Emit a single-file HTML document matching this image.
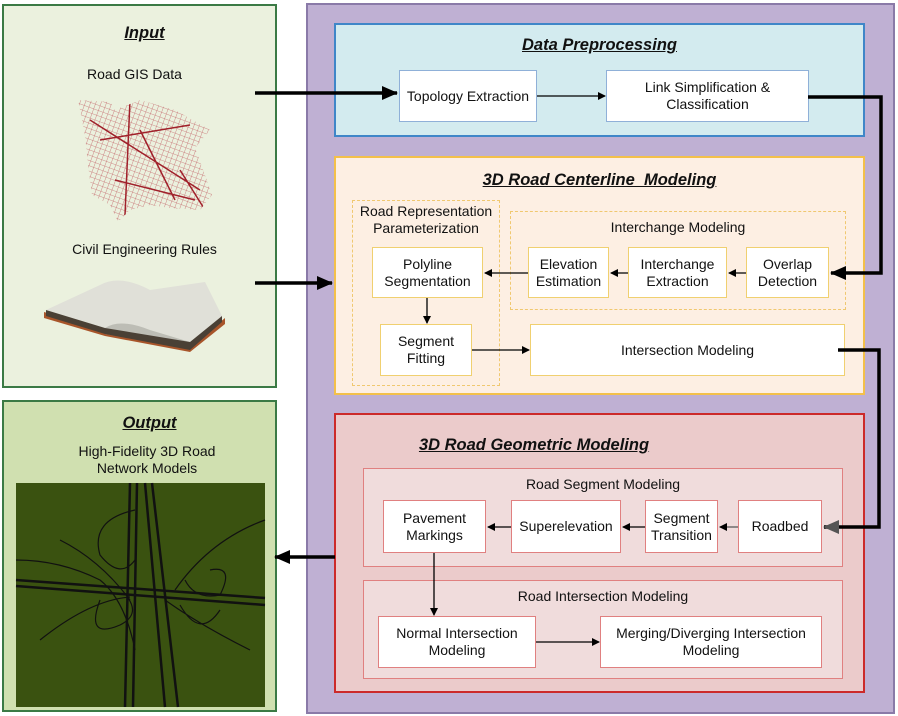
<!DOCTYPE html>
<html><head><style>
body{margin:0;width:898px;height:716px;position:relative;background:#fff;font-family:"Liberation Sans",sans-serif;overflow:hidden}
.a{position:absolute;box-sizing:border-box}
.b{position:absolute;box-sizing:border-box;background:#fff;display:flex;align-items:center;justify-content:center;text-align:center;font-size:14px;line-height:17px;color:#111}
.t{position:absolute;text-align:center;font-weight:bold;font-style:italic;text-decoration:underline;font-size:16.5px;color:#111}
.l{position:absolute;text-align:center;font-size:14px;color:#111;line-height:17px}
</style></head><body>
<div class="a" style="left:2px;top:4px;width:275px;height:384px;background:#ebf1de;border:2px solid #3b7a45"></div>
<div class="a" style="left:2px;top:400px;width:275px;height:312px;background:#d0e0b0;border:2px solid #3b7a45"></div>
<div class="t" style="left:2px;top:24px;width:285px">Input</div>
<div class="l" style="left:2px;top:66px;width:265px">Road GIS Data</div>
<div class="l" style="left:2px;top:241px;width:285px">Civil Engineering Rules</div>
<div class="t" style="left:2px;top:414px;width:295px">Output</div>
<div class="l" style="left:2px;top:443px;width:290px">High-Fidelity 3D Road<br>Network Models</div>
<svg class="a" style="left:0;top:0" width="898" height="716">
<defs>
<pattern id="grid" width="5" height="5" patternUnits="userSpaceOnUse" patternTransform="rotate(20)">
<path d="M0 0 L5 0 M0 0 L0 5" stroke="#b8404a" stroke-width="0.8"/>
</pattern>
<clipPath id="mc"><path d="M78 100 L110 102 L115 110 L140 100 L175 110 L210 130 L195 148 L205 175 L212 195 L200 210 L170 208 L150 205 L130 210 L118 222 L110 205 L92 195 L88 165 L85 135 Z"/></clipPath>
</defs>
<rect x="70" y="95" width="150" height="130" fill="url(#grid)" clip-path="url(#mc)" opacity="0.75"/>
<g stroke="#a0202a" stroke-width="1.5" fill="none" clip-path="url(#mc)">
<path d="M90 120 L200 190 M130 100 L125 215 M140 130 L175 200 M100 140 L190 125 M115 180 L195 200 M180 170 L205 210"/>
</g>
<!-- book -->
<path d="M44 312 L105 330 L190 347 L225 318 L225 324 L190 352 L105 336 L44 318Z" fill="#a8552a"/>
<path d="M46 310 L100 285 Q120 274 150 290 L205 282 L222 316 L190 342 L150 330 Q120 320 105 328 Z" fill="#e0e0d8"/>
<path d="M105 328 Q120 318 150 330 L190 342 L190 348 L105 334Z" fill="#bdbdb5"/>
<path d="M46 310 L105 328 L190 342 L222 316 L222 322 L190 350 L105 334 L46 316Z" fill="#4a4035"/>
<!-- output image -->
<rect x="16" y="483" width="249" height="224" fill="#3a5210"/>
<g stroke="#111" fill="none" stroke-width="2.5">
<path d="M130 483 L125 707 M137 483 L133 707 M145 483 L165 707 M152 483 L178 707"/>
<path d="M16 580 L265 598 M16 586 L265 605"/>
<path stroke-width="1.2" d="M135 510 Q90 520 100 555 Q120 580 135 560 M210 570 Q235 565 220 595 Q195 600 185 580 M100 600 Q85 640 120 625 Q140 615 128 598 M180 605 Q200 640 220 610 M16 560 Q60 560 100 580 Q125 600 135 650 M265 520 Q210 540 175 590 M40 640 Q90 600 130 597 M250 650 Q200 625 165 600 M60 540 Q100 560 130 600"/>
</g>
</svg>
<div class="a" style="left:306px;top:3px;width:589px;height:711px;background:#bfb0d3;border:2px solid #8a7aa8"></div>
<div class="a" style="left:334px;top:23px;width:531px;height:114px;background:#d3ebef;border:2px solid #3f86c8"></div>
<div class="t" style="left:334px;top:36px;width:531px">Data Preprocessing</div>
<div class="b" style="left:399px;top:70px;width:138px;height:52px;border:1px solid #8fb0d8">Topology Extraction</div>
<div class="b" style="left:606px;top:70px;width:203px;height:52px;border:1px solid #8fb0d8">Link Simplification &amp;<br>Classification</div>
<div class="a" style="left:334px;top:156px;width:531px;height:239px;background:#fdefe3;border:2px solid #f3c04a"></div>
<div class="t" style="left:334px;top:171px;width:531px">3D Road Centerline&nbsp; Modeling</div>
<div class="a" style="left:352px;top:200px;width:148px;height:186px;border:1px dashed #f0c870"></div>
<div class="l" style="left:348px;top:203px;width:156px">Road Representation<br>Parameterization</div>
<div class="a" style="left:510px;top:211px;width:336px;height:99px;border:1px dashed #f0c870"></div>
<div class="l" style="left:510px;top:219px;width:336px">Interchange Modeling</div>
<div class="b" style="left:372px;top:247px;width:111px;height:51px;border:1px solid #f0d070">Polyline<br>Segmentation</div>
<div class="b" style="left:528px;top:247px;width:81px;height:51px;border:1px solid #f0d070">Elevation<br>Estimation</div>
<div class="b" style="left:628px;top:247px;width:99px;height:51px;border:1px solid #f0d070">Interchange<br>Extraction</div>
<div class="b" style="left:746px;top:247px;width:83px;height:51px;border:1px solid #f0d070">Overlap<br>Detection</div>
<div class="b" style="left:380px;top:324px;width:92px;height:52px;border:1px solid #f0d070">Segment<br>Fitting</div>
<div class="b" style="left:530px;top:324px;width:315px;height:52px;border:1px solid #f0d070">Intersection Modeling</div>
<div class="a" style="left:334px;top:413px;width:531px;height:280px;background:#ebcbcb;border:2px solid #cc2a2a"></div>
<div class="t" style="left:334px;top:436px;width:400px">3D Road Geometric Modeling</div>
<div class="a" style="left:363px;top:468px;width:480px;height:99px;background:#f0dcdc;border:1px solid #e08080"></div>
<div class="l" style="left:363px;top:476px;width:480px">Road Segment Modeling</div>
<div class="a" style="left:363px;top:580px;width:480px;height:99px;background:#f0dcdc;border:1px solid #e08080"></div>
<div class="l" style="left:363px;top:588px;width:480px">Road Intersection Modeling</div>
<div class="b" style="left:383px;top:500px;width:103px;height:53px;border:1px solid #e08080">Pavement<br>Markings</div>
<div class="b" style="left:511px;top:500px;width:110px;height:53px;border:1px solid #e08080">Superelevation</div>
<div class="b" style="left:645px;top:500px;width:73px;height:53px;border:1px solid #e08080">Segment<br>Transition</div>
<div class="b" style="left:738px;top:500px;width:84px;height:53px;border:1px solid #e08080">Roadbed</div>
<div class="b" style="left:378px;top:616px;width:158px;height:52px;border:1px solid #e08080">Normal Intersection<br>Modeling</div>
<div class="b" style="left:600px;top:616px;width:222px;height:52px;border:1px solid #e08080">Merging/Diverging Intersection<br>Modeling</div>
<svg class="a" style="left:0;top:0" width="898" height="716">
<defs>
<marker id="m" markerWidth="8" markerHeight="8" refX="7" refY="4" orient="auto" markerUnits="userSpaceOnUse"><path d="M0 0 L8 4 L0 8Z" fill="#000"/></marker>
<marker id="M" markerWidth="16" markerHeight="14" refX="15" refY="7" orient="auto" markerUnits="userSpaceOnUse"><path d="M0 0 L16 7 L0 14Z" fill="#000"/></marker>
<marker id="g" markerWidth="16" markerHeight="14" refX="15" refY="7" orient="auto" markerUnits="userSpaceOnUse"><path d="M0 0 L16 7 L0 14Z" fill="#555"/></marker>
</defs>
<g fill="none" stroke="#000">
<path d="M255 93 L397 93" stroke-width="3.5" marker-end="url(#M)"/>
<path d="M255 283 L332 283" stroke-width="3.5" marker-end="url(#M)"/>
<path d="M808 97 L881 97 L881 273 L831 273" stroke-width="3.5" marker-end="url(#M)"/>
<path d="M838 350 L879 350 L879 527 L824 527" stroke-width="3.5" marker-end="url(#g)"/>
<path d="M335 557 L275 557" stroke-width="3.5" marker-end="url(#M)"/>
<path d="M537 96 L605 96" stroke-width="1.3" marker-end="url(#m)"/>
<path d="M746 273 L729 273" stroke-width="1.3" marker-end="url(#m)"/>
<path d="M628 273 L611 273" stroke-width="1.3" marker-end="url(#m)"/>
<path d="M528 273 L485 273" stroke-width="1.3" marker-end="url(#m)"/>
<path d="M427 298 L427 323" stroke-width="1.3" marker-end="url(#m)"/>
<path d="M472 350 L529 350" stroke-width="1.3" marker-end="url(#m)"/>
<path d="M738 527 L720 527" stroke-width="1.3" stroke="#555" marker-end="url(#m)"/>
<path d="M645 527 L623 527" stroke-width="1.3" marker-end="url(#m)"/>
<path d="M511 527 L488 527" stroke-width="1.3" marker-end="url(#m)"/>
<path d="M434 553 L434 615" stroke-width="1.3" marker-end="url(#m)"/>
<path d="M536 642 L599 642" stroke-width="1.3" marker-end="url(#m)"/>
</g>
</svg>
</body></html>
